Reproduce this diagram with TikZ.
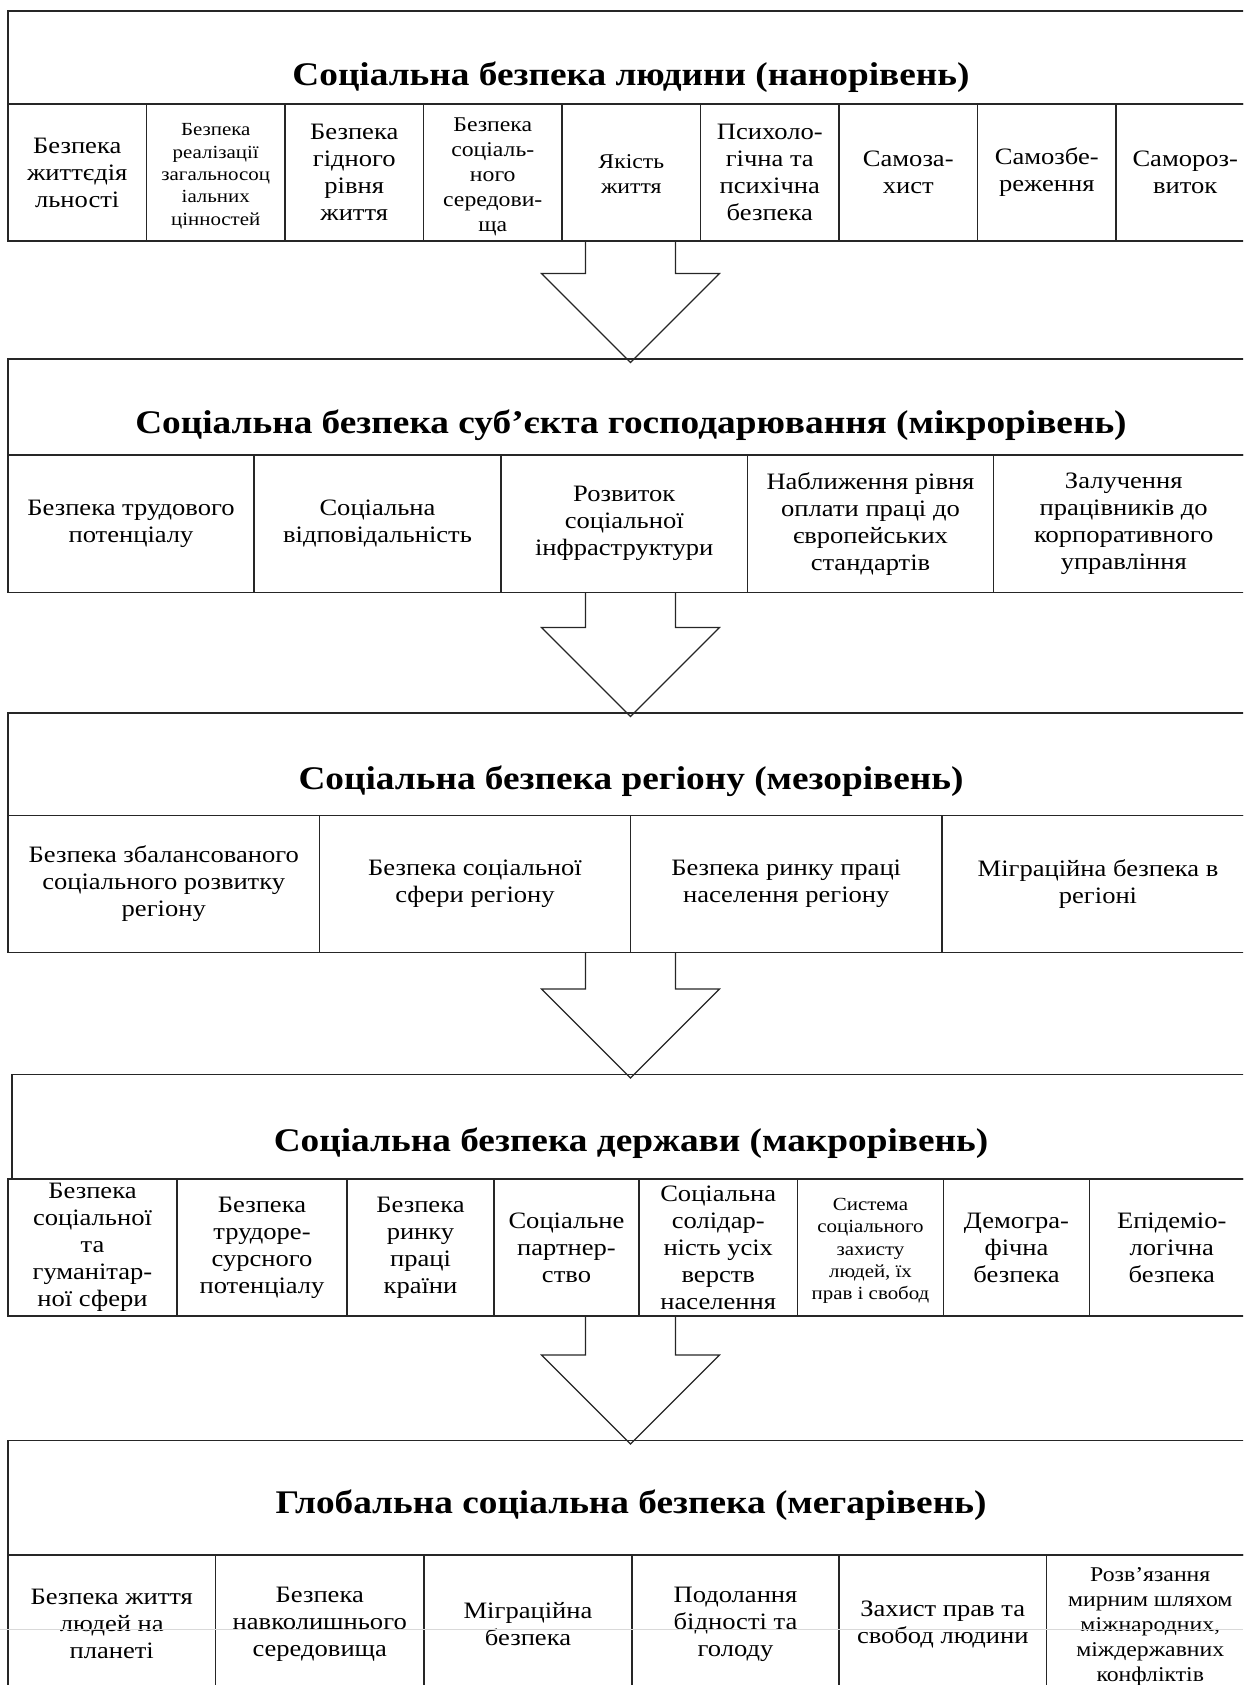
\documentclass[tikz,border=0pt]{standalone}
\usepackage{fontspec}
\setmainfont{Liberation Serif}[FakeStretch=1.13]
\usetikzlibrary{calc}

\newcommand{\fsz}[2]{\fontsize{#1}{#2}\selectfont}
% invisible strut that makes a first line taller, so its block sits lower in the cell
\newcommand{\topstrut}[1]{\rule{0pt}{#1}}

\tikzset{
  frame/.style={draw=black!85, line width=1.2pt, anchor=north west, inner sep=0pt, outer sep=0pt},
  cell/.style={frame, minimum height=137pt, align=center, font=\fsz{23.5}{27}},
  smallcell/.style={cell, font=\fsz{18.5}{22.3}},
  midcell/.style={cell, font=\fsz{21}{25}},
  titlebox/.style={frame},
  titletext/.style={font=\bfseries\fsz{33}{36}, inner sep=0pt, anchor=base},
  blockarr/.style={draw=black!85, line width=1.2pt, line join=miter},
  pagefold/.style={draw=black!15, line width=1.5pt},
}

% hollow block arrow: #1 = middle of the shaft top, #2 = tip
\newcommand{\blockarrow}[2]{%
  \draw[blockarr] ($(#1)+(-45,0)$) -- ($(#2)+(-45,-89)$) -- ($(#2)+(-89,-89)$)
    -- (#2) -- ($(#2)+(89,-89)$) -- ($(#2)+(45,-89)$) -- ($(#1)+(45,0)$);}

\begin{document}
\begin{tikzpicture}[x=1pt, y=-1pt]
\useasboundingbox (0,0) rectangle (1243,1685);
\clip (0,0) rectangle (1243,1685);
\coordinate (axis) at (630.5,0);

% ---------- nano level ----------
\node[titlebox, minimum width=1246.5pt, minimum height=93pt] (L1title) at (8,11) {};
\node[titletext] (L1head) at (631,86) {Соціальна безпека людини (нанорівень)};
\node[cell, minimum width=138.5pt] (n1) at (8,104) {Безпека\\життєдія\\льності};
\node[smallcell, minimum width=138.5pt] (n2) at (146.5,104) {\topstrut{19.5pt}Безпека\\реалізації\\загальносоц\\іальних\\цінностей};
\node[cell, minimum width=138.5pt] (n3) at (285,104) {Безпека\\гідного\\рівня\\життя};
\node[midcell, minimum width=138.5pt] (n4) at (423.5,104) {\topstrut{21.5pt}Безпека\\соціаль-\\ного\\середови-\\ща};
\node[midcell, minimum width=138.5pt] (n5) at (562,104) {\topstrut{17.5pt}Якість\\життя};
\node[cell, minimum width=138.5pt] (n6) at (700.5,104) {Психоло-\\гічна та\\психічна\\безпека};
\node[cell, minimum width=138.5pt] (n7) at (839,104) {Самоза-\\хист};
\node[cell, minimum width=138.5pt] (n8) at (977.5,104) {Самозбе-\\реження};
\node[cell, minimum width=138.5pt] (n9) at (1116,104) {Самороз-\\виток};

% ---------- micro level ----------
\node[titlebox, minimum width=1246pt, minimum height=96pt] (L2title) at (8,359) {};
\node[titletext] (L2head) at (631,433) {Соціальна безпека суб’єкта господарювання (мікрорівень)};
\node[cell, minimum width=246pt, minimum height=137.5pt] (m1) at (8,455) {Безпека трудового\\потенціалу};
\node[cell, minimum width=247pt, minimum height=137.5pt] (m2) at (254,455) {Соціальна\\відповідальність};
\node[cell, minimum width=246.5pt, minimum height=137.5pt] (m3) at (501,455) {Розвиток\\соціальної\\інфраструктури};
\node[cell, minimum width=246pt, minimum height=137.5pt] (m4) at (747.5,455) {Наближення рівня\\оплати праці до\\європейських\\стандартів};
\node[cell, minimum width=260.5pt, minimum height=137.5pt] (m5) at (993.5,455) {Залучення\\працівників до\\корпоративного\\управління};

% ---------- meso level ----------
\node[titlebox, minimum width=1246pt, minimum height=102.5pt] (L3title) at (8,713) {};
\node[titletext] (L3head) at (631,789) {Соціальна безпека регіону (мезорівень)};
\node[cell, minimum width=311.5pt] (r1) at (8,815.5) {Безпека збалансованого\\соціального розвитку\\регіону};
\node[cell, minimum width=311pt] (r2) at (319.5,815.5) {Безпека соціальної\\сфери регіону};
\node[cell, minimum width=311.5pt] (r3) at (630.5,815.5) {Безпека ринку праці\\населення регіону};
\node[cell, minimum width=312pt] (r4) at (942,815.5) {Міграційна безпека в\\регіоні};

% ---------- macro level ----------
\node[titlebox, minimum width=1242pt, minimum height=104.5pt] (L4title) at (12,1074.5) {};
\node[titletext] (L4head) at (631,1151) {Соціальна безпека держави (макрорівень)};
\node[cell, minimum width=169pt] (s1) at (8,1179) {Безпека\\соціальної\\та\\гуманітар-\\ної сфери};
\node[cell, minimum width=170pt] (s2) at (177,1179) {Безпека\\трудоре-\\сурсного\\потенціалу};
\node[cell, minimum width=147pt] (s3) at (347,1179) {Безпека\\ринку\\праці\\країни};
\node[cell, minimum width=145pt] (s4) at (494,1179) {Соціальне\\партнер-\\ство};
\node[cell, minimum width=158.5pt] (s5) at (639,1179) {Соціальна\\солідар-\\ність усіх\\верств\\населення};
\node[smallcell, minimum width=146pt] (s6) at (797.5,1179) {\topstrut{19.5pt}Система\\соціального\\захисту\\людей, їх\\прав і свобод};
\node[cell, minimum width=146pt] (s7) at (943.5,1179) {Демогра-\\фічна\\безпека};
\node[cell, minimum width=164.5pt] (s8) at (1089.5,1179) {Епідеміо-\\логічна\\безпека};

% ---------- mega level ----------
\node[titlebox, minimum width=1246pt, minimum height=114.5pt] (L5title) at (8,1440.5) {};
\node[titletext] (L5head) at (631,1513) {Глобальна соціальна безпека (мегарівень)};
\node[cell, minimum width=207.5pt, minimum height=138pt] (g1) at (8,1555) {Безпека життя\\людей на\\планеті};
\node[cell, minimum width=208.5pt, minimum height=138pt] (g2) at (215.5,1555) {Безпека\\навколишнього\\середовища};
\node[cell, minimum width=208pt, minimum height=138pt] (g3) at (424,1555) {Міграційна\\безпека};
\node[cell, minimum width=207pt, minimum height=138pt] (g4) at (632,1555) {Подолання\\бідності та\\голоду};
\node[cell, minimum width=207.5pt, minimum height=138pt] (g5) at (839,1555) {Захист прав та\\свобод людини};
\node[midcell, minimum width=207.5pt, minimum height=138pt] (g6) at (1046.5,1555) {\topstrut{19.5pt}Розв’язання\\мирним шляхом\\міжнародних,\\міждержавних\\конфліктів};

% ---------- arrows between levels ----------
\blockarrow{axis |- n1.south}{$(axis |- L2title.north)+(0,3.5)$}
\blockarrow{axis |- m1.south}{$(axis |- L3title.north)+(0,3.5)$}
\blockarrow{axis |- r1.south}{$(axis |- L4title.north)+(0,3.5)$}
\blockarrow{axis |- s1.south}{$(axis |- L5title.north)+(0,3.5)$}

% light fold line across the lower cells
\draw[pagefold] (0,1629.5) -- (1243,1629.5);
\end{tikzpicture}
\end{document}
